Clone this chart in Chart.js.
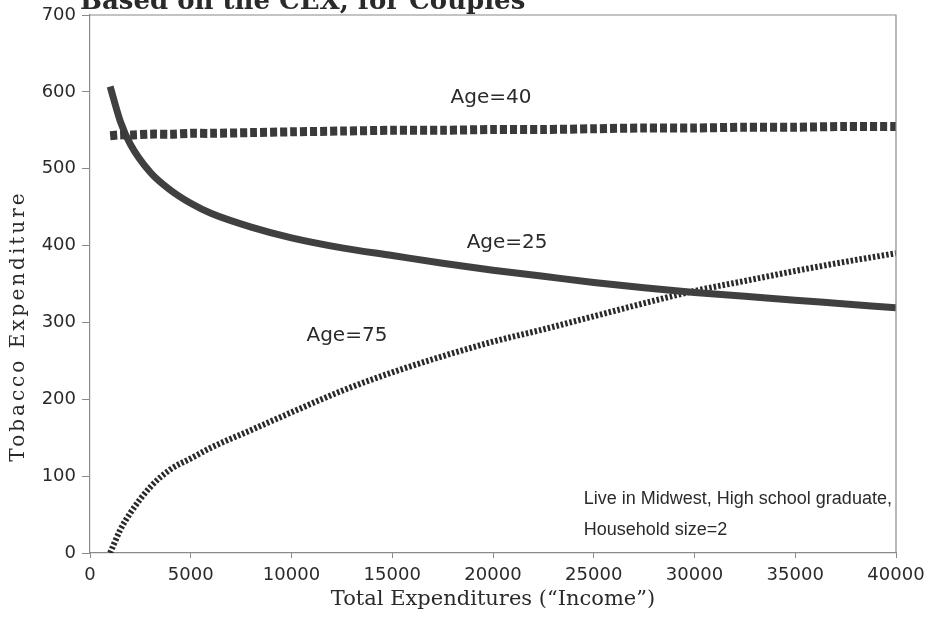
<!DOCTYPE html>
<html>
<head>
<meta charset="utf-8">
<script src="https://cdn.jsdelivr.net/npm/chart.js@4.4.0/dist/chart.umd.min.js"></script>
<style>
  html, body { margin: 0; padding: 0; background: #fff; }
  #wrap { width: 929px; height: 617px; position: relative; }
</style>
</head>
<body>
<div id="wrap"><canvas id="tobaccoChart" width="929" height="617"></canvas></div>
<script>
const incomes = [1000, 1500, 2000, 3000, 4000, 5000, 6000, 8000, 10000, 12500, 15000,
    17500, 20000, 22500, 25000, 27500, 30000, 32500, 35000, 37500, 40000];

// Tobacco expenditure by age of head
const age25 = [607, 562, 532, 495, 472, 455, 442, 424, 410, 397, 387,
    377, 368, 360, 352, 345, 339, 334, 329, 324, 319];
const age40 = [543, 544, 544, 545, 545, 546, 546, 547, 548, 549, 550,
    550, 551, 551, 552, 553, 553, 554, 554, 555, 555];
const age75 = [0, 30, 52, 86, 109, 123, 137, 160, 183, 211, 235,
    256, 275, 291, 308, 325, 341, 354, 367, 379, 390];

const xTicks = [0, 5000, 10000, 15000, 20000, 25000, 30000, 35000, 40000];
const yTicks = [0, 100, 200, 300, 400, 500, 600, 700];

const titleText = 'Based on the CEX, for Couples';
const yTitle = 'Tobacco Expenditure';
const notes = [
    { text: 'Age=40', x: 19900, y: 592, size: 20 },
    { text: 'Age=25', x: 20700, y: 404, size: 20 },
    { text: 'Age=75', x: 12750, y: 283, size: 20 }
];
const boxNotes = ['Live in Midwest, High school graduate,', 'Household size=2'];

const toPoints = (ys) => incomes.map((x, i) => ({ x: x, y: ys[i] }));

// frame, partial title, y title and the text notes
const extras = {
    id: 'extras',
    afterDraw(chart) {
        const { ctx, chartArea, scales } = chart;
        ctx.save();
        ctx.strokeStyle = '#8a8a8a';
        ctx.lineWidth = 1.2;
        ctx.beginPath();
        ctx.moveTo(chartArea.left, chartArea.top);
        ctx.lineTo(chartArea.right, chartArea.top);
        ctx.lineTo(chartArea.right, chartArea.bottom);
        ctx.stroke();

        ctx.fillStyle = '#2a2a2a';
        ctx.font = 'bold 26px "DejaVu Serif"';
        ctx.textAlign = 'left';
        ctx.textBaseline = 'alphabetic';
        ctx.fillText(titleText, 80, 9);

        // rotated y title, loosely spaced as in the print
        ctx.save();
        ctx.translate(19, 326);
        ctx.rotate(-Math.PI / 2);
        ctx.font = '20px "DejaVu Serif"';
        ctx.letterSpacing = '3px';
        ctx.textAlign = 'center';
        ctx.textBaseline = 'middle';
        ctx.fillText(yTitle, 0, 0);
        ctx.restore();

        ctx.textBaseline = 'middle';
        ctx.textAlign = 'center';
        notes.forEach(n => {
            ctx.font = n.size + 'px "DejaVu Sans"';
            ctx.fillText(n.text, scales.x.getPixelForValue(n.x), scales.y.getPixelForValue(n.y));
        });

        ctx.font = '18px "Liberation Sans"';
        ctx.textAlign = 'left';
        const left = scales.x.getPixelForValue(25000) - 10;
        ctx.fillText(boxNotes[0], left, scales.y.getPixelForValue(70));
        ctx.fillText(boxNotes[1], left, scales.y.getPixelForValue(30));
        ctx.restore();
    }
};

const ctx = document.getElementById('tobaccoChart').getContext('2d');
const chart = new Chart(ctx, {
    type: 'line',
    data: {
        datasets: [{
            label: 'Age=40',
            data: toPoints(age40),
            borderColor: '#3a3a3a',
            borderWidth: 9,
            borderDash: [7, 3],
            borderCapStyle: 'butt',
            pointRadius: 0,
            tension: 0.3
        }, {
            label: 'Age=25',
            data: toPoints(age25),
            borderColor: '#404040',
            borderWidth: 7,
            pointRadius: 0,
            cubicInterpolationMode: 'monotone'
        }, {
            label: 'Age=75',
            data: toPoints(age75),
            borderColor: '#2a2a2a',
            borderWidth: 6,
            borderDash: [2.5, 2],
            borderCapStyle: 'butt',
            pointRadius: 0,
            cubicInterpolationMode: 'monotone'
        }]
    },
    options: {
        responsive: false,
        animation: false,
        layout: { padding: { left: 0, right: 33, top: 15, bottom: 0 } },
        plugins: {
            legend: { display: false },
            tooltip: { enabled: false }
        },
        scales: {
            x: {
                type: 'linear',
                min: 0,
                max: 40000,
                afterBuildTicks: (s) => { s.ticks = xTicks.map(v => ({ value: v })); },
                afterFit: (s) => { s.height = 64; s.paddingLeft = 0; s.paddingRight = 0; },
                grid: { drawOnChartArea: false, drawTicks: true, tickLength: 5, color: '#8a8a8a' },
                border: { color: '#8a8a8a', width: 1.2 },
                ticks: {
                    color: '#2a2a2a',
                    padding: 7,
                    maxRotation: 0,
                    callback: (v) => String(v),
                    font: { family: 'DejaVu Sans', size: 18 }
                },
                title: {
                    display: true,
                    text: 'Total Expenditures (\u201cIncome\u201d)',
                    color: '#2a2a2a',
                    padding: { top: 0, bottom: 5 },
                    font: { family: 'DejaVu Serif', size: 21 }
                }
            },
            y: {
                min: 0,
                max: 700,
                afterBuildTicks: (s) => { s.ticks = yTicks.map(v => ({ value: v })); },
                afterFit: (s) => { s.width = 90; s.paddingTop = 0; s.paddingBottom = 0; },
                grid: { drawOnChartArea: false, drawTicks: true, tickLength: 8, color: '#8a8a8a' },
                border: { color: '#8a8a8a', width: 1.2 },
                ticks: {
                    color: '#2a2a2a',
                    padding: 6,
                    callback: (v) => String(v),
                    font: { family: 'DejaVu Sans', size: 18 }
                },
                title: { display: false }
            }
        }
    },
    plugins: [extras]
});
</script>
</body>
</html>
